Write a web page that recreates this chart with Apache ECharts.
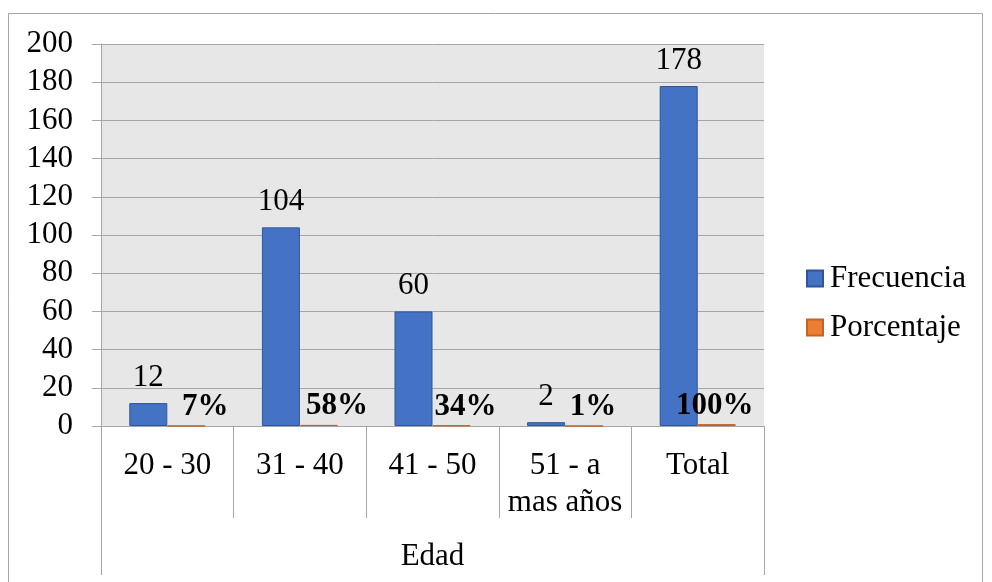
<!DOCTYPE html>
<html>
<head>
<meta charset="utf-8">
<script src="https://cdn.jsdelivr.net/npm/echarts@6/dist/echarts.min.js"></script>
<style>
  html, body { margin: 0; padding: 0; background: #ffffff; }
  #chart { width: 992px; height: 582px; }
</style>
</head>
<body>
<div id="chart"></div>
<script>
// Age groups and their counts / shares
const categories = ['20 - 30', '31 - 40', '41 - 50', '51 - a\nmas años', 'Total'];
const groupTitle = ['Edad'];
const frecuencia = [12, 104, 60, 2, 178];
const porcentaje = [0.07, 0.58, 0.34, 0.01, 1.00];
const seriesNames = ['Frecuencia', 'Porcentaje'];

// Horizontal nudges for the percentage labels
const pctLabelDx = [19, 18, 14, 9, -2];

const FONT = "'Liberation Serif', 'Times New Roman', serif";
const GRAY = '#a6a6a6';

const chart = echarts.init(document.getElementById('chart'), null, { renderer: 'canvas' });

chart.setOption({
  backgroundColor: '#ffffff',
  animation: false,
  graphic: [{
    type: 'rect',
    shape: { x: 8.5, y: 13.5, width: 974, height: 620 },
    style: { fill: 'none', stroke: GRAY, lineWidth: 1 },
    z: -1
  }],
  grid: {
    left: 101, right: 228, top: 44, bottom: 156,
    show: true, backgroundColor: '#e7e7e7', borderWidth: 0
  },
  legend: {
    orient: 'vertical',
    left: 801, top: 258,
    itemWidth: 16, itemHeight: 16, itemGap: 18,
    icon: 'rect',
    textStyle: { fontFamily: FONT, fontSize: 31, color: '#000', lineHeight: 31, padding: [0, 0, 0, 2] },
    data: seriesNames
  },
  xAxis: [{
    type: 'category',
    data: categories,
    axisLine: { show: true, lineStyle: { color: GRAY, width: 1 } },
    axisTick: { show: true, length: 92, lineStyle: { color: GRAY } },
    axisLabel: { fontFamily: FONT, fontSize: 31, color: '#000', margin: 21, lineHeight: 37, interval: 0 }
  }, {
    type: 'category',
    data: groupTitle,
    position: 'bottom',
    axisLine: { show: false },
    axisTick: { show: true, length: 149, lineStyle: { color: GRAY } },
    axisLabel: { fontFamily: FONT, fontSize: 31, color: '#000', margin: 115 }
  }],
  yAxis: {
    type: 'value',
    min: 0, max: 200, interval: 20,
    axisLine: { show: true, lineStyle: { color: GRAY, width: 1 } },
    axisTick: { show: true, length: 9, lineStyle: { color: GRAY } },
    splitLine: { show: true, lineStyle: { color: GRAY, width: 1 } },
    axisLabel: { fontFamily: FONT, fontSize: 31, color: '#000', margin: 28 }
  },
  series: [{
    name: seriesNames[0],
    type: 'bar',
    xAxisIndex: 0,
    barWidth: 38,
    barGap: '0%',
    data: frecuencia,
    itemStyle: { color: '#4472C4', borderColor: '#2F5597', borderWidth: 1 },
    label: {
      show: true, position: 'top', distance: 10,
      fontFamily: FONT, fontSize: 31, color: '#000'
    }
  }, {
    name: seriesNames[1],
    type: 'bar',
    xAxisIndex: 0,
    barWidth: 38,
    barGap: '0%',
    data: porcentaje.map((v, i) => ({
      value: v,
      label: { offset: [pctLabelDx[i], 0] }
    })),
    itemStyle: { color: '#ED7D31', borderColor: '#C0652A', borderWidth: 1 },
    label: {
      show: true, position: 'top', distance: 3,
      fontFamily: FONT, fontSize: 31, fontWeight: 'bold', color: '#000',
      formatter: p => Math.round(p.value * 100) + '%'
    }
  }]
});
</script>
</body>
</html>
